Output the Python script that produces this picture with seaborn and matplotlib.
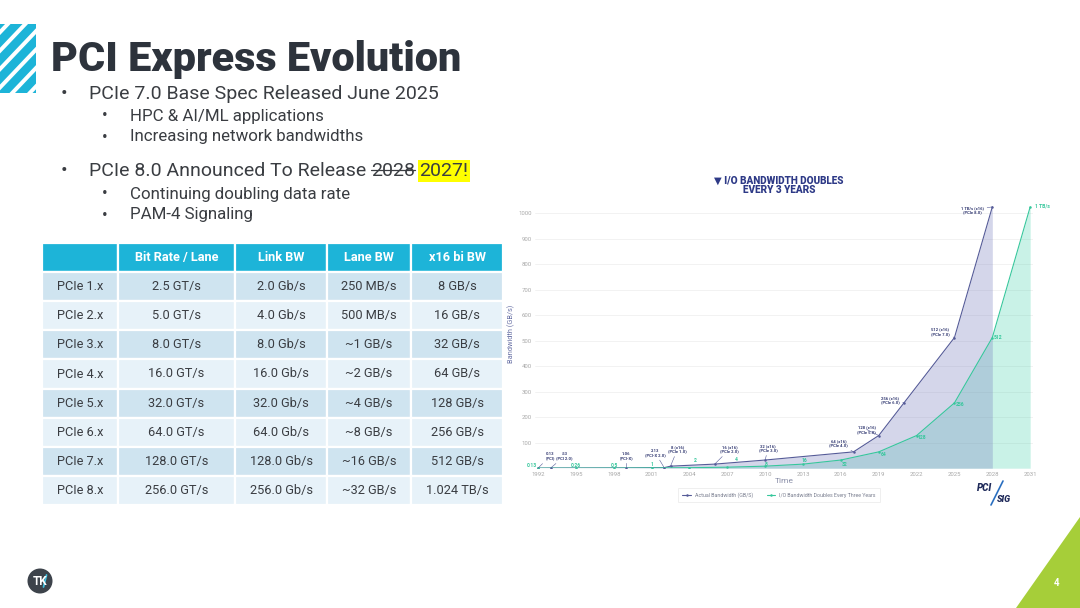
import matplotlib
matplotlib.use("Agg")
import matplotlib.pyplot as plt
import seaborn as sns
from matplotlib.patches import Polygon, Rectangle, Circle

# ------------------------------------------------------------------ data
slide_title = "PCI Express Evolution"
bullet_1 = "PCIe 7.0 Base Spec Released June 2025"
sub_bullets_1 = ["HPC & AI/ML applications", "Increasing network bandwidths"]
bullet_2 = "PCIe 8.0 Announced To Release"
bullet_2_old = "2028"
bullet_2_new = "2027!"
sub_bullets_2 = ["Continuing doubling data rate", "PAM-4 Signaling"]

table_header = ["", "Bit Rate / Lane", "Link BW", "Lane BW", "x16 bi BW"]
generations = ["PCIe 1.x", "PCIe 2.x", "PCIe 3.x", "PCIe 4.x",
               "PCIe 5.x", "PCIe 6.x", "PCIe 7.x", "PCIe 8.x"]
bit_rate_lane = ["2.5 GT/s", "5.0 GT/s", "8.0 GT/s", "16.0 GT/s",
                 "32.0 GT/s", "64.0 GT/s", "128.0 GT/s", "256.0 GT/s"]
link_bw = ["2.0 Gb/s", "4.0 Gb/s", "8.0 Gb/s", "16.0 Gb/s",
           "32.0 Gb/s", "64.0 Gb/s", "128.0 Gb/s", "256.0 Gb/s"]
lane_bw = ["250 MB/s", "500 MB/s", "~1 GB/s", "~2 GB/s",
           "~4 GB/s", "~8 GB/s", "~16 GB/s", "~32 GB/s"]
x16_bi_bw = ["8 GB/s", "16 GB/s", "32 GB/s", "64 GB/s",
             "128 GB/s", "256 GB/s", "512 GB/s", "1.024 TB/s"]

chart_title = "I/O BANDWIDTH DOUBLES\nEVERY 3 YEARS"
actual_years = [1992, 1993, 1999, 2002, 2002.5, 2006, 2010, 2017, 2019, 2021, 2025, 2028]
actual_bw = [0.13, 0.53, 1.06, 2.13, 8, 16, 32, 64, 128, 256, 512, 1024]
actual_labels = ["0.13\n(PCI)", ".53\n(PCI 2.0)", "1.06\n(PCI-X)", "2.13\n(PCI-X 2.0)",
                 "8 (x16)\n(PCIe 1.0)", "16 (x16)\n(PCIe 2.0)", "32 (x16)\n(PCIe 3.0)",
                 "64 (x16)\n(PCIe 4.0)", "128 (x16)\n(PCIe 5.0)", "256 (x16)\n(PCIe 6.0)",
                 "512 (x16)\n(PCIe 7.0)", "1 TB/s (x16)\n(PCIe 8.0)"]
doubling_years = [1992, 1995, 1998, 2001, 2004, 2007, 2010, 2013, 2016, 2019, 2022, 2025, 2028, 2031]
doubling_bw = [0.13, 0.26, 0.5, 1, 2, 4, 8, 16, 32, 64, 128, 256, 512, 1024]
doubling_labels = ["0.13", "0.26", "0.5", "1", "2", "4", "8", "16", "32", "64",
                   "128", "256", "512", "1 TB/s"]
year_ticks = [1992, 1995, 1998, 2001, 2004, 2007, 2010, 2013, 2016, 2019, 2022, 2025, 2028, 2031]
bw_ticks = [100, 200, 300, 400, 500, 600, 700, 800, 900, 1000]
series_names = ["Actual Bandwidth (GB/S)", "I/O Bandwidth Doubles Every Three Years"]
page_number = "4"

# ------------------------------------------------------------------ style
sns.set_theme(style="white")
plt.rcParams["font.family"] = ["Roboto", "DejaVu Sans"]

W, H = 1080, 608
fig = plt.figure(figsize=(10.8, 6.08), dpi=100)
fig.patch.set_facecolor("white")

CYAN = "#1db4d8"
TEXT = "#3a3d42"
NAVY = "#333a72"
TEAL = "#36c79c"
PURPLE = "#555b98"

# background axes in pixel coordinates
bg = fig.add_axes([0, 0, 1, 1])
bg.set_xlim(0, W)
bg.set_ylim(H, 0)
bg.axis("off")

# diagonal stripes logo
clip = Rectangle((0, 24), 36, 69, transform=bg.transData, facecolor="none", edgecolor="none")
bg.add_patch(clip)
P, Wd, s = 17.5, 12.0, 0.95
for k in range(-5, 6):
    x0 = -20 + k * P
    poly = Polygon([(x0, 93), (x0 + Wd, 93), (x0 + Wd + 69 * s, 24), (x0 + 69 * s, 24)],
                   closed=True, facecolor=CYAN, edgecolor="none")
    bg.add_patch(poly)
    poly.set_clip_path(clip)

# title
bg.text(51, 71, slide_title, fontsize=29.8, fontweight=900, family=["Roboto", "DejaVu Sans"],
        color="#2d333c", va="baseline", ha="left")

# bullets
main_fs, sub_fs = 14.0, 12.2
def bullet(y, text, level):
    bx = 61 if level == 0 else 102
    tx = 89 if level == 0 else 130
    fs = main_fs if level == 0 else sub_fs
    bg.text(bx, y, "•", fontsize=fs * 1.0, color=TEXT, va="center", ha="left")
    return bg.text(tx, y, text, fontsize=fs, color=TEXT, va="center", ha="left", fontweight="normal")

bullet(94, bullet_1, 0)
bullet(116, sub_bullets_1[0], 1)
bullet(137, sub_bullets_1[1], 1)
t_b2 = bullet(171, bullet_2, 0)
bullet(194, sub_bullets_2[0], 1)
bullet(215, sub_bullets_2[1], 1)

# green triangle + page number
bg.add_patch(Polygon([(1080, 517), (1016, 608), (1080, 608)], closed=True,
                     facecolor="#a6ce39", edgecolor="none"))
bg.text(1057, 583, page_number, fontsize=7, color="white", ha="center", va="center", fontweight="bold")

# bottom-left logo
bg.add_patch(Circle((40, 581), 12.5, facecolor="#3d434b", edgecolor="none"))
bg.text(40, 581.5, "TK", fontsize=8.5, color="white", ha="center", va="center", fontweight="bold")
bg.plot([43.5, 46.5], [587, 575], color="#3fc0e0", lw=1.3)

# ------------------------------------------------------------------ table
tx0, ty0, tw, th = 42, 243, 461, 262
tab_ax = fig.add_axes([tx0 / W, 1 - (ty0 + th) / H, tw / W, th / H])
tab_ax.axis("off")
rows = [[g, b, l, ln, x] for g, b, l, ln, x in zip(generations, bit_rate_lane, link_bw, lane_bw, x16_bi_bw)]
col_px = [76, 117, 92, 84, 92]
tbl = tab_ax.table(cellText=rows, colLabels=table_header,
                   colWidths=[c / sum(col_px) for c in col_px],
                   bbox=[0, 0, 1, 1], cellLoc="center")
tbl.auto_set_font_size(False)
for (r, c), cell in tbl.get_celld().items():
    cell.set_edgecolor("white")
    cell.set_linewidth(1.6)
    if r == 0:
        cell.set_facecolor(CYAN)
        cell.get_text().set_color("white")
        cell.get_text().set_fontweight("bold")
        cell.get_text().set_fontsize(9.2)
    else:
        cell.set_facecolor("#cfe4f0" if r % 2 == 1 else "#e7f2f9")
        cell.get_text().set_color(TEXT)
        cell.get_text().set_fontsize(9.2)

# ------------------------------------------------------------------ chart
px_per_year = 12.62
px_per_gb = 0.2552
x_left = 538 - 0.2 * px_per_year
y_bottom = 468.2
cw = 39.4 * px_per_year
ch = 1050 * px_per_gb
ax = fig.add_axes([x_left / W, 1 - y_bottom / H, cw / W, ch / H])
ax.set_facecolor("none")

ax.fill_between(doubling_years, doubling_bw, 0, color="#3fd1a9", alpha=0.28, lw=0)
ax.fill_between(actual_years, actual_bw, 0, color="#7a80c0", alpha=0.32, lw=0)
sns.lineplot(x=actual_years, y=actual_bw, ax=ax, color=PURPLE, linewidth=0.8,
             marker="o", markersize=1.8, markeredgewidth=0, label=series_names[0])
sns.lineplot(x=doubling_years, y=doubling_bw, ax=ax, color=TEAL, linewidth=0.8,
             marker="o", markersize=1.8, markeredgewidth=0, label=series_names[1])

ax.set_xlim(1991.8, 2031.2)
ax.set_ylim(0, 1050)
ax.set_xticks(year_ticks)
ax.set_xticklabels([str(y) for y in year_ticks])
ax.set_yticks(bw_ticks)
ax.set_yticklabels([str(v) for v in bw_ticks])
ax.tick_params(length=0, labelsize=4.3, labelcolor="#a8a8a8", pad=2.5)
ax.grid(axis="y", color="#f0f0f0", linewidth=0.6)
ax.grid(axis="x", visible=False)
for sp in ax.spines.values():
    sp.set_visible(False)
ax.set_xlabel("Time", fontsize=6, color="#8a8fa8", labelpad=1)
ax.set_ylabel("Bandwidth (GB/s)", fontsize=5.3, color="#6a72a6", labelpad=2)
ax.set_title("\u25bc " + chart_title.split("\n")[0] + "\n" + chart_title.split("\n")[1],
             fontsize=7.2, fontweight="heavy", color="#2e3a87",
             linespacing=1.0, pad=5, x=0.49)

# purple labels
purple_off = [(12, 12), (14, 12), (0, 12), (-9, 15), (7, 17), (15, 15), (3, 12),
              (-15, 9), (-12, 6), (-14, 3), (-14, 6), (-20, -3)]
for yr, v, lab, (dx, dy) in zip(actual_years, actual_bw, actual_labels, purple_off):
    ax.annotate(lab, xy=(yr, v), xytext=(dx, dy), textcoords="offset pixels",
                ha="center", va="center", fontsize=3.0, fontweight="bold", color=NAVY,
                linespacing=1.1,
                arrowprops=dict(arrowstyle="-", color=PURPLE, lw=0.4, shrinkA=0, shrinkB=0))

# teal labels
teal_off = [(-6, 3), (0, 3), (1, 3), (0, 3), (6, 7), (9, 8), (1, 2), (1, 4),
            (4, -4), (5, -3), (5, -2), (6, -2), (6, 0), (12, 1)]
for yr, v, lab, (dx, dy) in zip(doubling_years, doubling_bw, doubling_labels, teal_off):
    ax.annotate(lab, xy=(yr, v), xytext=(dx, dy), textcoords="offset pixels",
                ha="center", va="center", fontsize=3.6, fontweight="bold", color=TEAL)

leg = ax.legend(loc="center", bbox_to_anchor=(0.49, -0.1), ncol=2, fontsize=3.8,
                frameon=True, handlelength=1.6, columnspacing=2.5, borderpad=0.8,
                labelcolor="#7a7f90")
leg.get_frame().set_edgecolor("#e4e4e4")
leg.get_frame().set_linewidth(0.5)
leg.get_frame().set_boxstyle("square", pad=0.0)

# PCI-SIG logo
bg.text(985, 488, "PCI", fontsize=7, fontweight="black", fontstyle="italic",
        color="#1f2a5a", ha="center", va="center")
bg.text(1004, 500, "SIG", fontsize=6.5, fontweight="black", fontstyle="italic",
        color="#1f2a5a", ha="center", va="center")
bg.plot([1003, 991], [481, 505], color="#2a6fc0", lw=1.2)

# ------------------------------------------------------------------ mixed bullet line (strike + highlight)
fig.canvas.draw()
r = fig.canvas.get_renderer()
bb = t_b2.get_window_extent(r)
space = 4.5
x_old = bb.x1 + space
t_old = bg.text(x_old, 171, bullet_2_old, fontsize=main_fs, color=TEXT, va="center",
                ha="left", fontweight="normal")
bb_old = t_old.get_window_extent(r)
bg.plot([bb_old.x0, bb_old.x1], [169.5, 169.5], color=TEXT, lw=0.9)
x_new = bb_old.x1 + space
bg.text(x_new, 171, bullet_2_new, fontsize=main_fs, color=TEXT, va="center", ha="left",
        fontweight="normal",
        bbox=dict(facecolor="#ffff00", edgecolor="none", boxstyle="square,pad=0.08"))

fig.savefig("out.png", dpi=100, facecolor="white")
